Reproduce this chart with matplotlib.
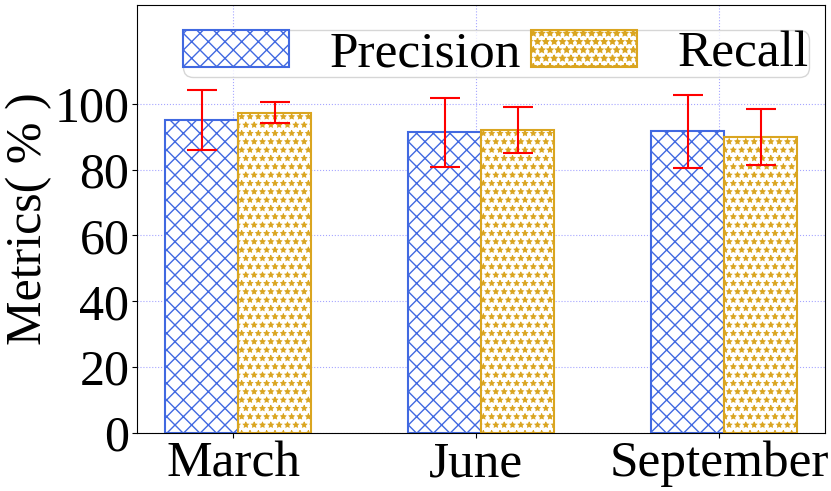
import numpy as np
import matplotlib
matplotlib.use("Agg")
import matplotlib.pyplot as plt

plt.rcParams['font.family'] = ['Liberation Serif', 'DejaVu Serif']

months = ['March', 'June', 'September']
precision = [95.0, 91.3, 91.6]
precision_err = [9.1, 10.4, 11.1]
recall = [97.3, 91.9, 89.9]
recall_err = [3.2, 7.0, 8.4]

x = np.arange(len(months))
width = 0.3

fig = plt.figure(figsize=(8.31, 4.91), dpi=100)
ax = fig.add_axes([0.165, 0.118, 0.828, 0.872])

err_style = dict(ecolor='red', elinewidth=1.5, capsize=11, capthick=1.5)
with plt.rc_context({'hatch.linewidth': 1.0}):
    ax.bar(x - width / 2, precision, width, yerr=precision_err, label='Precision',
           color='white', edgecolor='royalblue', linewidth=1.5, hatch='xx',
           error_kw=err_style, zorder=2)
with plt.rc_context({'hatch.linewidth': 0.6}):
    ax.bar(x + width / 2, recall, width, yerr=recall_err, label='Recall',
           color='white', edgecolor='goldenrod', linewidth=1.5, hatch='**',
           error_kw=err_style, zorder=2)

# ticks sit a touch left of the bar pair, as in the original
ax.set_xticks(x - 0.02)
ax.set_xticklabels(months, fontsize=37)
ax.set_yticks(range(0, 101, 20))
ax.tick_params(axis='y', labelsize=36, pad=2)
ax.tick_params(axis='x', pad=2)
ax.set_ylim(0, 130)
ax.set_xlim(-0.416, 2.416)
ax.set_ylabel('Metrics( % )', fontsize=36, labelpad=2)
ax.grid(True, linestyle=':', color='#8080ff', alpha=0.7, linewidth=0.8, zorder=0)
ax.set_axisbelow(True)

ax.legend(loc='upper left', ncol=2, fontsize=37, bbox_to_anchor=(0.067, 0.942),
          handlelength=2.05, handleheight=0.75, borderpad=0.0, columnspacing=0.2,
          handletextpad=0.8, borderaxespad=0, fancybox=True)

fig.savefig('out.png', dpi=100)
